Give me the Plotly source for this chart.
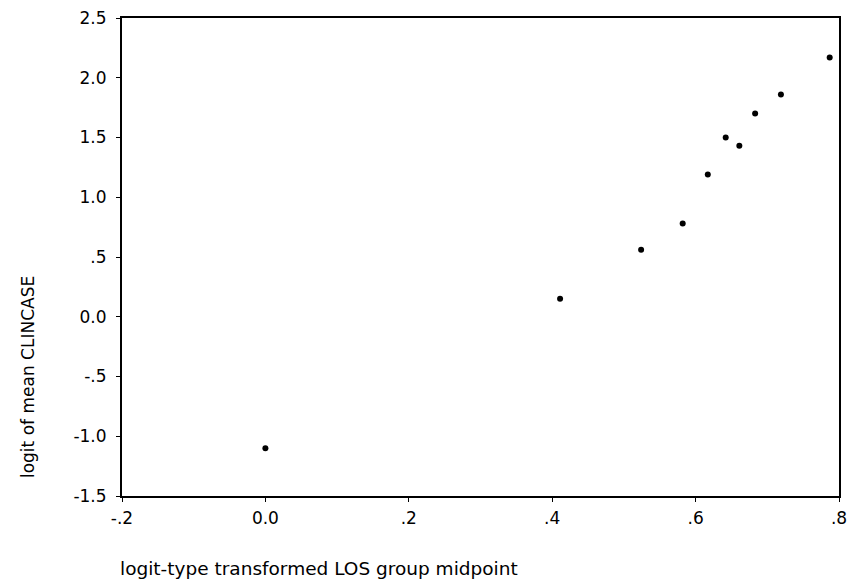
import plotly.graph_objects as go

# Data
los_midpoint_logit = [0.0, 0.411, 0.524, 0.582, 0.617, 0.642, 0.661, 0.683, 0.719, 0.787]
mean_clincase_logit = [-1.10, 0.15, 0.56, 0.78, 1.19, 1.50, 1.43, 1.70, 1.86, 2.17]

x_tickvals = [-0.2, 0.0, 0.2, 0.4, 0.6, 0.8]
x_ticktext = ["-.2", "0.0", ".2", ".4", ".6", ".8"]
y_tickvals = [-1.5, -1.0, -0.5, 0.0, 0.5, 1.0, 1.5, 2.0, 2.5]
y_ticktext = ["-1.5", "-1.0", "-.5", "0.0", ".5", "1.0", "1.5", "2.0", "2.5"]

x_title = "logit-type transformed LOS group midpoint"
y_title = "logit of mean CLINCASE"

FONT = "DejaVu Sans"

fig = go.Figure()
fig.add_trace(go.Scatter(
    x=los_midpoint_logit, y=mean_clincase_logit, mode="markers",
    marker=dict(symbol="circle", size=6, color="black", line=dict(width=0)),
    showlegend=False, hoverinfo="x+y",
))

axis_common = dict(
    showline=True, linecolor="black", linewidth=2, mirror=True,
    showgrid=False, zeroline=False,
    ticks="outside", ticklen=4, tickwidth=1, tickcolor="black",
    tickfont=dict(family=FONT, size=17, color="black"),
    automargin=False,
)

fig.update_xaxes(range=[-0.2, 0.8], tickvals=x_tickvals, ticktext=x_ticktext,
                 ticklabelstandoff=2, **axis_common)
fig.update_yaxes(range=[-1.5, 2.5], tickvals=y_tickvals, ticktext=y_ticktext,
                 ticklabelstandoff=6, **axis_common)

fig.add_annotation(
    text=x_title, xref="paper", yref="paper",
    x=-0.006, y=-0.151, xanchor="left", yanchor="middle",
    showarrow=False, font=dict(family=FONT, size=18.5, color="black"),
)
fig.add_annotation(
    text=y_title, xref="paper", yref="paper",
    x=-0.131, y=0.249, xanchor="center", yanchor="middle", textangle=-90,
    showarrow=False, font=dict(family=FONT, size=17, color="black"),
)

fig.update_layout(
    width=851, height=584,
    margin=dict(l=122, r=12, t=18, b=88),
    paper_bgcolor="white", plot_bgcolor="white",
    font=dict(family=FONT, color="black"),
)

fig.write_html("out.html", config={"displayModeBar": False},
               post_script="document.body.style.margin='0';")
